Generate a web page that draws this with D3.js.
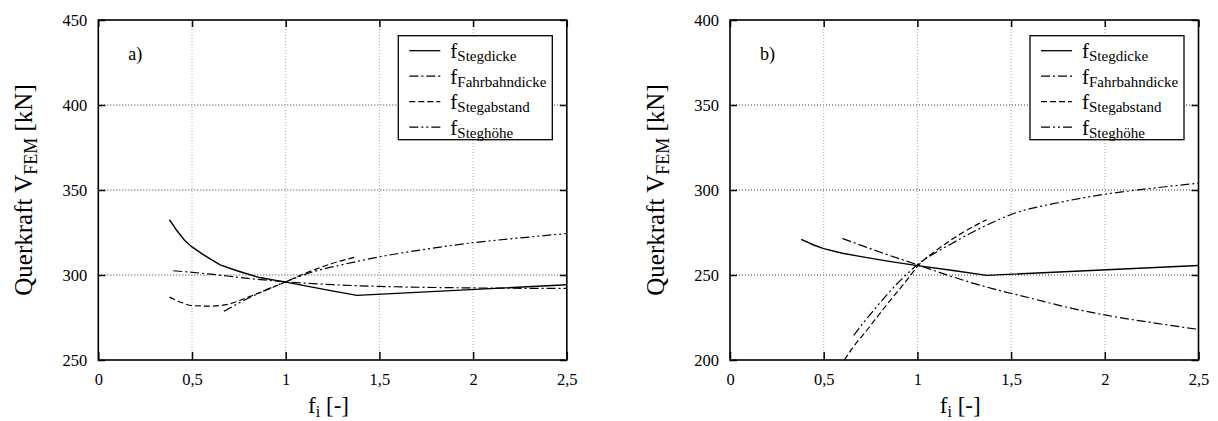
<!DOCTYPE html>
<html>
<head>
<meta charset="utf-8">
<script src="https://cdn.jsdelivr.net/npm/d3@7"></script>
<style>
  body { margin: 0; background: #fff; }
  text { font-family: "Liberation Serif", "Times New Roman", serif; fill: #000; }
</style>
</head>
<body>
<div id="chart"></div>
<script>
// 1: DATA
const xTicks = [0, 0.5, 1, 1.5, 2, 2.5];
const xTickLabels = ["0", "0,5", "1", "1,5", "2", "2,5"];
const yTicksA = [250, 300, 350, 400, 450];
const yTicksB = [200, 250, 300, 350, 400];
const seriesNames = ["Stegdicke", "Fahrbahndicke", "Stegabstand", "Steghöhe"];

// panel a)
const aStegdickeX = [0.38, 0.42, 0.46, 0.5, 0.56, 0.65, 0.74, 0.86, 1.0, 1.24, 1.38, 2.5];
const aStegdickeY = [332.5, 326, 320.5, 316.5, 312, 306, 302.5, 298.5, 295.8, 290.8, 288, 294.3];
const aFahrbahnX = [0.4, 0.6, 0.8, 1.0, 1.25, 1.5, 2.0, 2.5];
const aFahrbahnY = [302.5, 300.5, 298, 296, 294.3, 293.3, 292.4, 292.1];
const aAbstandX = [0.38, 0.44, 0.5, 0.6, 0.7, 0.8, 0.9, 1.0, 1.1, 1.2, 1.3, 1.37];
const aAbstandY = [287, 284, 282, 281.7, 283, 287, 291.3, 296, 300.8, 305, 308.5, 310.5];
const aHoeheX = [0.67, 0.75, 0.85, 1.0, 1.15, 1.3, 1.5, 1.75, 2.0, 2.25, 2.5];
const aHoeheY = [278.6, 283.5, 289, 296, 302, 306, 310.7, 315.2, 319, 321.8, 324.4];

// panel b)
const bStegdickeX = [0.38, 0.45, 0.5, 0.6, 0.7, 0.85, 1.0, 1.2, 1.37, 2.5];
const bStegdickeY = [271, 267.5, 265.5, 262.8, 260.8, 258, 255.5, 252.5, 249.8, 255.6];
const bFahrbahnX = [0.6, 0.8, 1.0, 1.2, 1.4, 1.6, 1.8, 2.0, 2.25, 2.5];
const bFahrbahnY = [271.5, 263.5, 256, 248.5, 242, 236.5, 231, 226.5, 222, 218];
const bAbstandX = [0.61, 0.65, 0.73, 0.84, 0.94, 1.0, 1.12, 1.25, 1.37];
const bAbstandY = [200, 206.5, 217.5, 233, 246.5, 255, 266, 275.5, 282.5];
const bHoeheX = [0.66, 0.72, 0.78, 0.89, 1.0, 1.175, 1.36, 1.5, 1.75, 2.0, 2.25, 2.5];
const bHoeheY = [214.5, 223, 231, 244.7, 256, 268, 278.8, 285.6, 292.5, 297.5, 301, 304];

// 2: LAYOUT
const width = 468.5;
const height = 340;
const serif = "'Liberation Serif', 'Times New Roman', serif";
const dashes = [null, "9,3,2,3", "6,3", "9,3,2,3,2,3"];

const svg = d3.select("#chart")
    .append("svg")
    .attr("width", 1218)
    .attr("height", 421)
    .attr("font-family", serif);

const zip = (xs, ys) => xs.map((x, i) => ({ x: x, y: ys[i] }));

function drawPanel(left, label, yTicks, series) {
    const g = svg.append("g").attr("transform", `translate(${left},20)`);

    const xScale = d3.scaleLinear().domain([0, 2.5]).range([0, width]);
    const yScale = d3.scaleLinear().domain(d3.extent(yTicks)).range([height, 0]);

    // grid
    g.selectAll(".hgrid")
        .data(yTicks.slice(1, -1))
        .enter().append("line")
        .attr("x1", 0).attr("x2", width)
        .attr("y1", d => yScale(d)).attr("y2", d => yScale(d))
        .attr("stroke", "#333").attr("stroke-width", 1)
        .attr("stroke-dasharray", "1,2");

    g.selectAll(".vgrid")
        .data(xTicks.slice(1, -1))
        .enter().append("line")
        .attr("x1", d => xScale(d)).attr("x2", d => xScale(d))
        .attr("y1", 0).attr("y2", height)
        .attr("stroke", "#aaa").attr("stroke-width", 1)
        .attr("stroke-dasharray", "1,2");

    // axes (ticks pointing inward, on all four sides)
    g.append("g")
        .attr("transform", `translate(0,${height})`)
        .call(d3.axisBottom(xScale).tickValues(xTicks).tickSize(-8).tickPadding(13)
            .tickFormat((d, i) => xTickLabels[i]));
    g.append("g")
        .call(d3.axisLeft(yScale).tickValues(yTicks).tickSize(-7).tickPadding(11));
    g.append("g")
        .call(d3.axisTop(xScale).tickValues(xTicks).tickSize(-7).tickFormat(""));
    g.append("g")
        .attr("transform", `translate(${width},0)`)
        .call(d3.axisRight(yScale).tickValues(yTicks).tickSize(-7).tickFormat(""));

    g.selectAll(".domain").remove();
    g.selectAll(".tick line").attr("stroke", "#000").attr("stroke-width", 1.5);
    g.selectAll(".tick text")
        .attr("font-family", serif)
        .style("font-family", serif)
        .style("font-size", "16.5px")
        .attr("fill", "#000");

    // frame
    g.append("rect")
        .attr("width", width).attr("height", height)
        .attr("fill", "none").attr("stroke", "#000").attr("stroke-width", 1.6);

    // lines
    const line = d3.line()
        .x(d => xScale(d.x))
        .y(d => yScale(d.y));

    series.forEach((s, i) => {
        g.append("path")
            .datum(s)
            .attr("fill", "none")
            .attr("stroke", "#000")
            .attr("stroke-width", i === 0 ? 1.4 : 1.2)
            .attr("stroke-dasharray", dashes[i])
            .attr("d", line.curve(i === 0 ? d3.curveLinear : d3.curveMonotoneX));
    });

    // panel label
    g.append("text")
        .attr("x", 30).attr("y", 40)
        .style("font-size", "18px")
        .text(label);

    // legend
    const lx = width - 14.5 - 154;
    const ly = 15.7;
    const legend = g.append("g").attr("transform", `translate(${lx},${ly})`);
    legend.append("rect")
        .attr("width", 154).attr("height", 104)
        .attr("fill", "#fff").attr("stroke", "#000").attr("stroke-width", 1.3);

    const item = legend.selectAll(".legend")
        .data(seriesNames)
        .enter().append("g")
        .attr("class", "legend")
        .attr("transform", (d, i) => `translate(0,${15 + i * 25.5})`);

    item.append("line")
        .attr("x1", 11).attr("x2", 42)
        .attr("stroke", "#000").attr("stroke-width", 1.3)
        .attr("stroke-dasharray", (d, i) => dashes[i]);

    const lt = item.append("text")
        .attr("x", 52).attr("y", 7.5)
        .style("font-size", "21px");
    lt.append("tspan").text("f");
    lt.append("tspan").attr("dy", 3).style("font-size", "15px").text(d => d);

    // x title
    const xt = g.append("text")
        .attr("x", width / 2 - 4).attr("y", 393)
        .attr("text-anchor", "middle")
        .style("font-size", "23px");
    xt.append("tspan").text("f");
    xt.append("tspan").attr("dy", 4).style("font-size", "16px").text("i");
    xt.append("tspan").attr("dy", -4).text(" [-]");

    // y title
    const yt = g.append("text")
        .attr("transform", `translate(-66,170) rotate(-90)`)
        .attr("text-anchor", "middle")
        .style("font-size", "25px");
    yt.append("tspan").text("Querkraft V");
    yt.append("tspan").attr("dy", 5).style("font-size", "18px").text("FEM");
    yt.append("tspan").attr("dy", -5).text(" [kN]");
}

drawPanel(98.3, "a)", yTicksA, [
    zip(aStegdickeX, aStegdickeY),
    zip(aFahrbahnX, aFahrbahnY),
    zip(aAbstandX, aAbstandY),
    zip(aHoeheX, aHoeheY)
]);

drawPanel(730, "b)", yTicksB, [
    zip(bStegdickeX, bStegdickeY),
    zip(bFahrbahnX, bFahrbahnY),
    zip(bAbstandX, bAbstandY),
    zip(bHoeheX, bHoeheY)
]);
</script>
</body>
</html>
